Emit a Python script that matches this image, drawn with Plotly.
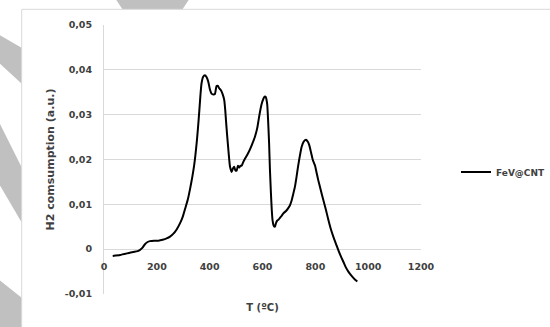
import plotly.graph_objects as go

# ---- data ----
temperature_c = [33, 61, 98, 130, 145, 155, 165, 174, 190, 206, 222, 237, 250, 262, 275, 288, 298, 307, 317, 326,
                 334, 341, 346, 351, 356, 361, 365, 369, 375, 382, 388, 395, 401, 407, 414, 420, 426, 431, 436, 442,
                 449, 455, 459, 462, 466, 471, 474, 477, 483, 488, 493, 497, 502, 507, 512, 516, 521, 527, 534, 543,
                 553, 562, 572, 580, 588, 596, 603, 608, 612, 615, 618, 621, 625, 628, 632, 635, 638, 642, 647, 651,
                 656, 661, 666, 672, 679, 689, 698, 704, 710, 716, 723, 729, 735, 742, 748, 756, 765, 771, 777, 784,
                 790, 795, 799, 805, 811, 820, 830, 840, 849, 858, 868, 878, 887, 896, 906, 915, 925, 935, 944, 952, 959]
h2_consumption = [-0.0015, -0.0013, -0.0008, -0.0004, 0.0003, 0.0011, 0.0016, 0.0018, 0.0019, 0.0019,
                  0.0021, 0.0024, 0.0028, 0.0034, 0.0044, 0.0058, 0.0072, 0.0090, 0.0110, 0.0135,
                  0.0160, 0.0186, 0.0210, 0.0238, 0.0272, 0.0310, 0.0343, 0.0369, 0.0384, 0.0388,
                  0.0384, 0.0373, 0.0356, 0.0347, 0.0345, 0.0346, 0.0364, 0.0364, 0.0359, 0.0355,
                  0.0346, 0.0333, 0.0310, 0.0285, 0.0255, 0.0220, 0.0200, 0.0184, 0.0172, 0.0180,
                  0.0184, 0.0176, 0.0175, 0.0186, 0.0182, 0.0186, 0.0186, 0.0194, 0.0202, 0.0211,
                  0.0223, 0.0236, 0.0252, 0.0270, 0.0298, 0.0322, 0.0335, 0.0340, 0.0340, 0.0334,
                  0.0322, 0.0290, 0.0236, 0.0180, 0.0124, 0.0088, 0.0065, 0.0053, 0.0050, 0.0058,
                  0.0064, 0.0066, 0.0070, 0.0074, 0.0080, 0.0085, 0.0092, 0.0098, 0.0108, 0.0122,
                  0.0140, 0.0162, 0.0186, 0.0210, 0.0228, 0.0240, 0.0244, 0.0240, 0.0232, 0.0215,
                  0.0200, 0.0192, 0.0186, 0.0170, 0.0154, 0.0133, 0.0110, 0.0088, 0.0066, 0.0046,
                  0.0028, 0.0012, -0.0002, -0.0015, -0.0028, -0.0040, -0.0050, -0.0058, -0.0064, -0.0069,
                  -0.0072]
series_name = "FeV@CNT"
x_tick_values = [0, 200, 400, 600, 800, 1000, 1200]
y_tick_values = [-0.01, 0, 0.01, 0.02, 0.03, 0.04, 0.05]
y_tick_labels = ["-0,01", "0", "0,01", "0,02", "0,03", "0,04", "0,05"]

# ---- layout geometry (pixels) ----
W, H = 550, 327
L, R, T, B = 104, 421, 25, 294


def px(x):
    return (x - L) / (R - L)


def py(y):
    return (B - y) / (B - T)


def poly(points):
    return "M " + " L ".join(f"{px(a):.4f},{py(b):.4f}" for a, b in points) + " Z"


TXT = "#404040"
FONT = "DejaVu Sans"

fig = go.Figure()
fig.add_trace(go.Scatter(
    x=temperature_c, y=h2_consumption, mode="lines", name=series_name,
    line=dict(color="black", width=2, shape="spline", smoothing=0.5),
))

grey = "#c0c0c0"
shapes = [
    dict(type="path", path=poly([(115, -2), (190, -2), (182, 10), (123, 10)]), fillcolor=grey, line=dict(width=0)),
    dict(type="path", path=poly([(-2, 34), (22, 48), (22, 84), (-2, 62)]), fillcolor=grey, line=dict(width=0)),
    dict(type="path", path=poly([(-2, 120), (22, 168), (22, 223), (-2, 182)]), fillcolor=grey, line=dict(width=0)),
    dict(type="path", path=poly([(-2, 279), (22, 298), (22, 330), (-2, 330)]), fillcolor=grey, line=dict(width=0)),
    dict(type="rect", x0=px(21.7), x1=px(580), y0=py(9.3), y1=py(340),
         fillcolor="white", line=dict(color="#d9d9d9", width=1)),
]
for s in shapes:
    s.update(xref="paper", yref="paper", layer="below")

fig.update_layout(
    width=W, height=H,
    margin=dict(l=L, r=W - R, t=T, b=H - B, pad=0, autoexpand=False),
    paper_bgcolor="white", plot_bgcolor="white",
    font=dict(family=FONT, size=9, color=TXT),
    shapes=shapes,
    showlegend=True,
    legend=dict(x=px(456), y=py(172), xanchor="left", yanchor="middle",
                font=dict(family=FONT, size=9, color=TXT, weight="bold"),
                bgcolor="rgba(0,0,0,0)"),
    xaxis=dict(
        range=[0, 1200], tickvals=x_tick_values, showgrid=False, zeroline=False, showline=False,
        anchor="free", position=1 / 6,
        ticks="outside", ticklen=8, tickcolor="rgba(0,0,0,0)",
        tickfont=dict(family=FONT, size=9.5, color=TXT, weight="bold"),
        title=dict(text="T (ºC)", font=dict(family=FONT, size=10, color=TXT, weight="bold"), standoff=33),
    ),
    yaxis=dict(
        range=[-0.01, 0.05], tickvals=y_tick_values, ticktext=y_tick_labels,
        showgrid=True, gridcolor="#d9d9d9", gridwidth=1, zeroline=False,
        showline=True, linecolor="#d9d9d9", linewidth=1,
        ticks="outside", ticklen=9, tickcolor="rgba(0,0,0,0)",
        tickfont=dict(family=FONT, size=9.5, color=TXT, weight="bold"),
        title=dict(text="H2 comsumption (a.u.)", font=dict(family=FONT, size=11, color=TXT, weight="bold"),
                   standoff=7),
    ),
)

fig.write_html("out.html")
